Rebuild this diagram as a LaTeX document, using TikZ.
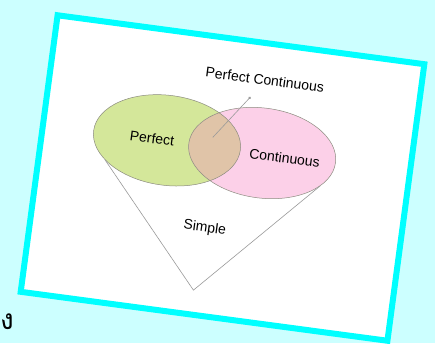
\documentclass[tikz,border=0pt]{standalone}
\usepackage{fontspec}
\setmainfont{Liberation Sans}
\newfontfamily\thaifont[Script=Thai]{Loma}
\usepackage{tikz}
\usetikzlibrary{shapes.geometric,arrows.meta}

\definecolor{skyc}{HTML}{CCFFFF}
\definecolor{framec}{HTML}{00FFFF}
\definecolor{perfectc}{HTML}{D4E79A}
\definecolor{contc}{HTML}{FCD0E8}
\definecolor{bothc}{HTML}{E0C4A8}
\definecolor{rimc}{HTML}{8C8C80}
\definecolor{linec}{HTML}{9A9A9A}

\tikzset{
  venn/.style={ellipse, minimum width=148pt, minimum height=90pt, inner sep=0pt},
  lbl/.style={font=\fontsize{14}{16}\selectfont},
  edge/.style={draw=linec, line width=0.6pt},
  rim/.style={draw=rimc, line width=0.5pt}
}

\begin{document}
\begin{tikzpicture}[x=1pt,y=-1pt]

% Background and page size
\fill[skyc] (0,0) rectangle (435,343);
\useasboundingbox (0,0) rectangle (435,343);

\begin{scope}[shift={(222.5,178)}, rotate=-7.6, transform shape]

% Tilted frame
\draw[framec, line width=6pt, fill=white] (-185,-139.5) rectangle (185,139.5);

% Define the two sets
\node[venn, fill=perfectc] (perfect) at (-60,-30) {};
\node[venn, fill=contc] (cont) at (36,-30) {};

% Overlap of both sets
\begin{scope}
\clip (-60,-30) ellipse [x radius=74, y radius=45];
\fill[bothc] (36,-30) ellipse [x radius=74, y radius=45];
\end{scope}
\draw[rim] (-60,-30) ellipse [x radius=74, y radius=45];
\draw[rim] (36,-30) ellipse [x radius=74, y radius=45];

% Apex of the outer region
\coordinate (apex) at (-14,115);
\draw[edge] (perfect.205) -- (apex) -- (cont.338);

% Set labels
\node[lbl] (perfectlbl) at (-75,-30) {Perfect};
\node[lbl] (contlbl) at (59,-28) {Continuous};
\node[lbl] (simplelbl) at (-11,52) {Simple};
\node[lbl] (bothlbl) at (29,-103) {Perfect Continuous};

% Pointer into the overlap
\coordinate (pcdot) at (17,-84);
\coordinate (pctip) at (-15,-39);
\draw[edge, {Circle[length=2.4pt]}-] (pcdot) -- (pctip);

\end{scope}

% Letter in the corner
\node[font=\thaifont\fontsize{28}{30}\selectfont, inner sep=0pt] (ngo) at (7,322) {ง};

\end{tikzpicture}
\end{document}
